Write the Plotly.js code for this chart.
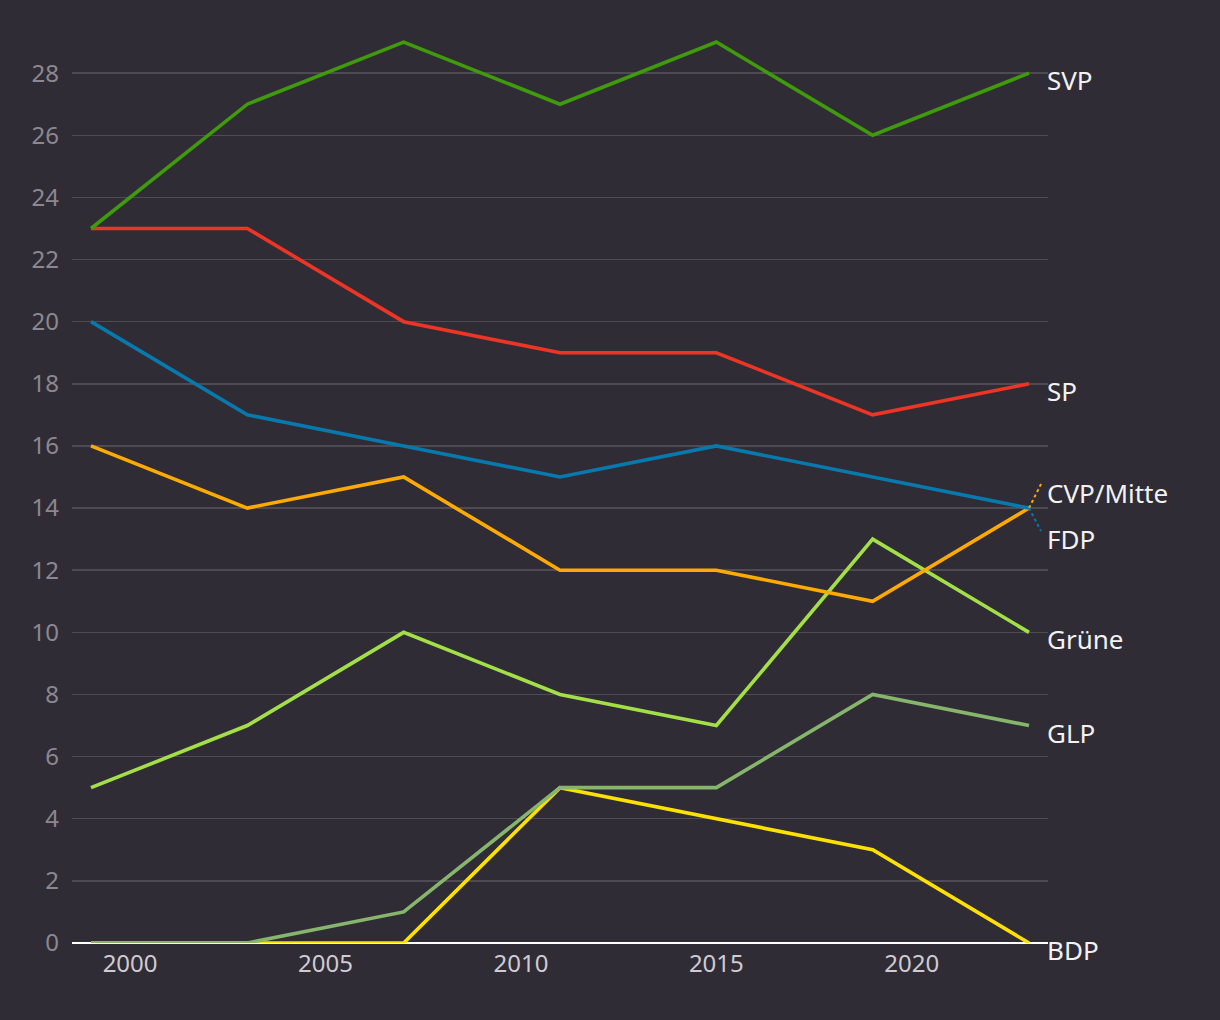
<!DOCTYPE html>
<html>
<head>
<meta charset="utf-8">
<script src="https://cdn.plot.ly/plotly-3.0.1.min.js"></script>
<style>html,body{margin:0;padding:0;background:#302c35;}</style>
</head>
<body>
<div id="chart" style="width:1220px;height:1020px;"></div>
<script>
const years = [1999, 2003, 2007, 2011, 2015, 2019, 2023];
const parties = ["SVP", "SP", "FDP", "CVP/Mitte", "Grüne", "GLP", "BDP"];
const svp   = [23, 27, 29, 27, 29, 26, 28];
const sp    = [23, 23, 20, 19, 19, 17, 18];
const fdp   = [20, 17, 16, 15, 16, 15, 14];
const cvp   = [16, 14, 15, 12, 12, 11, 14];
const gruene= [5, 7, 10, 8, 7, 13, 10];
const glp   = [0, 0, 1, 5, 5, 8, 7];
const bdp   = [0, 0, 0, 5, 4, 3, 0];
const yTicks = [0, 2, 4, 6, 8, 10, 12, 14, 16, 18, 20, 22, 24, 26, 28];
const xTicks = [2000, 2005, 2010, 2015, 2020];

const series = [svp, sp, fdp, cvp, gruene, glp, bdp];
const colors = ["#3f9b0b", "#ec3524", "#0879ac", "#ffaa00", "#a3e048", "#86b56c", "#ffe100"];
const labelShift = [-7, -7, -31, 15, -7, -7, -7];
const FONT = "Noto Sans, sans-serif";

const traces = series.map((vals, i) => ({
  x: years, y: vals, type: "scatter", mode: "lines", name: parties[i],
  line: {color: colors[i], width: 3.6}, hoverinfo: "x+y+name"
})).reverse();

const last = years[years.length - 1];
const annotations = series.map((vals, i) => ({
  x: 1, xref: "paper", y: vals[vals.length - 1], yref: "y",
  text: parties[i], showarrow: false, xanchor: "left", yanchor: "middle",
  yshift: labelShift[i], xshift: -3,
  font: {family: FONT, size: 26, color: "#f2f2f2"}
}));

const shapes = [
  {type: "line", xref: "x", yref: "y", xsizemode: "pixel", ysizemode: "pixel",
   xanchor: last, yanchor: cvp[cvp.length-1], x0: 0, x1: 12, y0: 0, y1: 24,
   line: {color: colors[3], width: 2, dash: "dot"}},
  {type: "line", xref: "x", yref: "y", xsizemode: "pixel", ysizemode: "pixel",
   xanchor: last, yanchor: fdp[fdp.length-1], x0: 0, x1: 12, y0: 0, y1: -23,
   line: {color: colors[2], width: 2, dash: "dot"}}
];

const layout = {
  width: 1220, height: 1020,
  paper_bgcolor: "#302c35", plot_bgcolor: "#302c35",
  margin: {l: 72, r: 172, t: 11, b: 77},
  showlegend: false,
  font: {family: FONT},
  xaxis: {
    range: [1998.514, 2023.486], tickvals: xTicks, ticktext: xTicks.map(String),
    showgrid: false, zeroline: false, showline: false, ticks: "",
    tickfont: {size: 24, color: "#cfcbd2"}, ticklabelstandoff: 4
  },
  yaxis: {
    range: [0, 30], tickvals: yTicks, ticktext: yTicks.map(String),
    showgrid: true, gridcolor: "#4f4b53", gridwidth: 1.5,
    zeroline: true, zerolinecolor: "#ffffff", zerolinewidth: 2,
    showline: false, ticks: "",
    tickfont: {size: 24, color: "#8c8890"}, ticklabelstandoff: 12
  },
  annotations: annotations,
  shapes: shapes
};

Plotly.newPlot("chart", traces, layout, {displayModeBar: false, staticPlot: true});
</script>
</body>
</html>
